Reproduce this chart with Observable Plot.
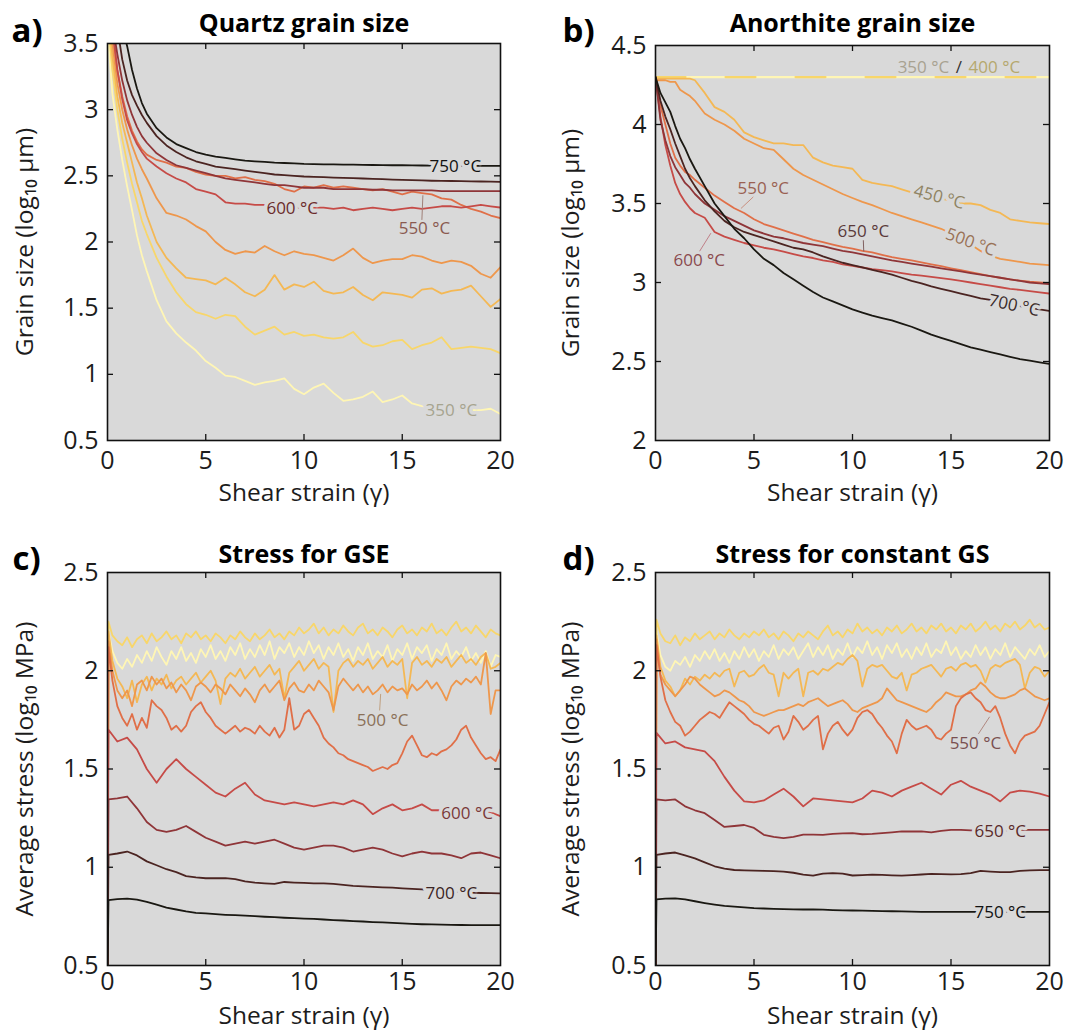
<!DOCTYPE html>
<html><head><meta charset="utf-8">
<script src="https://cdn.jsdelivr.net/npm/d3@7"></script>
<script src="https://cdn.jsdelivr.net/npm/@observablehq/plot@0.6"></script>
<style>
body{margin:0;background:#fff;}
#wrap{position:relative;width:1070px;height:1032px;overflow:hidden;background:#fff;}
#wrap svg{position:absolute;}
</style></head><body><div id="wrap"></div>
<script>
// ---------- shared ----------
const temps = [350, 400, 450, 500, 550, 600, 650, 700, 750];
const tempColors = ["#fff6b5", "#f8d66a", "#f4b854", "#ee974c", "#e06f48", "#c64b47", "#8f3538", "#4b2421", "#1a1812"];
const xTickLabels = [0, 5, 10, 15, 20];
const xLabel = "Shear strain (γ)";

// ---------- panel a / b strain grid ----------
const strainAB = [0, 0.25, 0.5, 0.75, 1, 1.25, 1.5, 1.75, 2, 2.5, 3, 3.5, 4, 4.5, 5, 5.5, 6, 6.5, 7, 7.5, 8, 8.5, 9, 9.5, 10,
  10.5, 11, 11.5, 12, 12.5, 13, 13.5, 14, 14.5, 15, 15.5, 16, 16.5, 17, 17.5, 18, 18.5, 19, 19.5, 20];

// ---------- a) Quartz grain size (log10 µm) ----------
const qz350 = [3.6, 3.12, 2.85, 2.62, 2.42, 2.24, 2.05, 1.9, 1.78, 1.56, 1.40, 1.31, 1.24, 1.18, 1.10, 1.05, 0.99, 0.98, 0.95, 0.92,
  0.94, 0.95, 0.97, 0.89, 0.85, 0.90, 0.93, 0.86, 0.80, 0.81, 0.83, 0.87, 0.79, 0.81, 0.84, 0.78, 0.76, 0.75, 0.74, 0.73, 0.74, 0.73, 0.73, 0.74, 0.70];
const qz400 = [3.7, 3.3, 3.0, 2.78, 2.6, 2.44, 2.3, 2.16, 2.06, 1.88, 1.74, 1.62, 1.53, 1.47, 1.45, 1.42, 1.45, 1.44, 1.36, 1.30,
  1.33, 1.36, 1.30, 1.32, 1.29, 1.30, 1.28, 1.27, 1.28, 1.32, 1.24, 1.21, 1.22, 1.25, 1.26, 1.19, 1.22, 1.24, 1.28, 1.19, 1.20, 1.21, 1.20, 1.19, 1.16];
const qz450 = [3.8, 3.4, 3.1, 2.9, 2.75, 2.6, 2.45, 2.33, 2.2, 2.0, 1.88, 1.80, 1.73, 1.72, 1.71, 1.68, 1.73, 1.68, 1.62, 1.59,
  1.64, 1.75, 1.64, 1.68, 1.66, 1.70, 1.63, 1.61, 1.62, 1.66, 1.60, 1.56, 1.62, 1.61, 1.60, 1.58, 1.64, 1.65, 1.61, 1.63, 1.64, 1.67, 1.59, 1.51, 1.57];
const qz500 = [3.9, 3.5, 3.2, 3.0, 2.85, 2.73, 2.63, 2.55, 2.48, 2.33, 2.22, 2.20, 2.17, 2.12, 2.08, 2.0, 1.94, 1.91, 1.93, 1.92,
  1.97, 1.93, 1.90, 1.93, 1.91, 1.90, 1.88, 1.86, 1.90, 1.95, 1.88, 1.84, 1.86, 1.87, 1.87, 1.90, 1.89, 1.86, 1.84, 1.86, 1.85, 1.82, 1.76, 1.73, 1.81];
const qz550 = [3.95, 3.6, 3.3, 3.1, 2.95, 2.84, 2.76, 2.70, 2.66, 2.62, 2.60, 2.57, 2.56, 2.53, 2.51, 2.50, 2.50, 2.48, 2.49, 2.47,
  2.46, 2.44, 2.40, 2.38, 2.42, 2.41, 2.43, 2.41, 2.42, 2.41, 2.40, 2.39, 2.40, 2.38, 2.36, 2.38, 2.37, 2.36, 2.33, 2.32, 2.28, 2.25, 2.23, 2.20, 2.18];
const qz600 = [4.0, 3.62, 3.3, 3.08, 2.92, 2.82, 2.74, 2.68, 2.63, 2.57, 2.52, 2.48, 2.45, 2.40, 2.38, 2.36, 2.30, 2.29, 2.29, 2.28,
  2.28, 2.27, 2.27, 2.26, 2.26, 2.26, 2.26, 2.25, 2.26, 2.24, 2.25, 2.26, 2.25, 2.24, 2.25, 2.26, 2.25, 2.26, 2.27, 2.27, 2.26, 2.27, 2.28, 2.27, 2.26];
const qz650 = [3.95, 3.65, 3.42, 3.22, 3.07, 2.96, 2.87, 2.80, 2.75, 2.67, 2.62, 2.58, 2.56, 2.54, 2.52, 2.50, 2.48, 2.47, 2.46, 2.45,
  2.44, 2.43, 2.43, 2.42, 2.41, 2.41, 2.41, 2.40, 2.40, 2.40, 2.40, 2.395, 2.395, 2.39, 2.39, 2.39, 2.39, 2.39, 2.385, 2.385, 2.385, 2.385, 2.385, 2.385, 2.385];
const qz700 = [4.25, 3.95, 3.62, 3.38, 3.22, 3.11, 3.03, 2.96, 2.90, 2.80, 2.73, 2.68, 2.64, 2.61, 2.59, 2.57, 2.56, 2.55, 2.54, 2.53,
  2.52, 2.51, 2.505, 2.50, 2.495, 2.492, 2.49, 2.487, 2.485, 2.482, 2.48, 2.477, 2.475, 2.472, 2.47, 2.467, 2.465, 2.463, 2.462, 2.461, 2.46, 2.458, 2.457, 2.456, 2.455];
const qz750 = [4.3, 4.0, 3.8, 3.62, 3.48, 3.3, 3.16, 3.05, 2.97, 2.86, 2.79, 2.74, 2.71, 2.68, 2.66, 2.645, 2.635, 2.625, 2.615, 2.61,
  2.605, 2.60, 2.597, 2.594, 2.59, 2.588, 2.587, 2.586, 2.585, 2.584, 2.583, 2.582, 2.581, 2.58, 2.58, 2.579, 2.578, 2.577, 2.577, 2.576, 2.576, 2.575, 2.575, 2.575, 2.575];

// ---------- b) Anorthite grain size (log10 µm) ----------
const anFlatStrain = [0, 20];
const an350 = [4.3, 4.3];
const an400 = [4.3, 4.3];
const an450 = [4.29, 4.29, 4.29, 4.29, 4.29, 4.29, 4.29, 4.29, 4.28, 4.2, 4.11, 4.08, 4.03, 3.95, 3.92, 3.9, 3.88, 3.88, 3.87, 3.87,
  3.79, 3.76, 3.74, 3.73, 3.72, 3.65, 3.63, 3.62, 3.61, 3.59, 3.57, 3.56, 3.55, 3.53, 3.52, 3.5, 3.5, 3.49, 3.46, 3.44, 3.40, 3.39, 3.38, 3.375, 3.37];
const an500 = [4.28, 4.28, 4.28, 4.27, 4.27, 4.22, 4.2, 4.18, 4.15, 4.07, 4.03, 4.0, 3.96, 3.91, 3.88, 3.85, 3.84, 3.78, 3.72, 3.68,
  3.65, 3.62, 3.59, 3.56, 3.535, 3.51, 3.49, 3.465, 3.44, 3.42, 3.40, 3.38, 3.36, 3.34, 3.31, 3.28, 3.24, 3.2, 3.17, 3.15, 3.14, 3.13, 3.12, 3.115, 3.11];
const an550 = [4.3, 4.12, 4.0, 3.88, 3.79, 3.74, 3.70, 3.68, 3.65, 3.60, 3.55, 3.51, 3.47, 3.44, 3.40, 3.37, 3.35, 3.33, 3.31, 3.29,
  3.27, 3.255, 3.24, 3.225, 3.215, 3.20, 3.19, 3.175, 3.16, 3.15, 3.14, 3.128, 3.115, 3.103, 3.09, 3.078, 3.065, 3.053, 3.04, 3.03, 3.02, 3.012, 3.005, 3.0, 2.995];
const an600 = [4.3, 4.05, 3.87, 3.74, 3.63, 3.56, 3.51, 3.47, 3.44, 3.41, 3.32, 3.29, 3.27, 3.25, 3.235, 3.22, 3.21, 3.195, 3.18, 3.165,
  3.155, 3.14, 3.13, 3.115, 3.105, 3.095, 3.085, 3.078, 3.07, 3.06, 3.05, 3.043, 3.035, 3.028, 3.02, 3.01, 3.0, 2.99, 2.98, 2.97, 2.96, 2.953, 2.945, 2.937, 2.93];
const an650 = [4.3, 4.03, 3.9, 3.8, 3.73, 3.68, 3.63, 3.60, 3.56, 3.50, 3.46, 3.42, 3.39, 3.36, 3.33, 3.31, 3.29, 3.28, 3.265, 3.25,
  3.24, 3.23, 3.215, 3.2, 3.19, 3.178, 3.165, 3.153, 3.14, 3.13, 3.12, 3.11, 3.1, 3.09, 3.08, 3.07, 3.06, 3.05, 3.04, 3.03, 3.02, 3.01, 3.0, 2.995, 2.99];
const an700 = [4.3, 4.15, 4.05, 3.97, 3.88, 3.8, 3.72, 3.66, 3.61, 3.52, 3.45, 3.39, 3.35, 3.32, 3.30, 3.28, 3.26, 3.24, 3.22, 3.21,
  3.19, 3.165, 3.145, 3.125, 3.11, 3.095, 3.08, 3.065, 3.05, 3.03, 3.01, 2.995, 2.975, 2.96, 2.945, 2.93, 2.915, 2.9, 2.89, 2.875, 2.86, 2.85, 2.84, 2.83, 2.82];
const an750 = [4.3, 4.2, 4.14, 4.08, 3.99, 3.91, 3.85, 3.78, 3.72, 3.61, 3.50, 3.42, 3.34, 3.28, 3.21, 3.15, 3.11, 3.06, 3.02, 2.98,
  2.94, 2.905, 2.88, 2.855, 2.83, 2.81, 2.79, 2.775, 2.76, 2.74, 2.72, 2.695, 2.67, 2.65, 2.63, 2.61, 2.59, 2.575, 2.56, 2.545, 2.53, 2.515, 2.505, 2.495, 2.485];

// ---------- panel c / d strain grids ----------
const strainFine = [0, 0.05, ...d3.range(1, 81).map(i => i / 4)];
const strainMed = [0, 0.05, ...d3.range(1, 41).map(i => i / 2)];

// ---------- c) Stress for GSE (log10 MPa) ----------
const gse350 = [0.45, 2.2,
  2.1, 2.04, 2.01, 2.06, 2.02, 2.08, 2.04, 2.1, 2.05, 2.12,
  2.07, 2.03, 2.1, 2.06, 2.12, 2.05, 2.09, 2.04, 2.11, 2.07,
  2.13, 2.06, 2.1, 2.05, 2.12, 2.08, 2.14, 2.06, 2.11, 2.07,
  2.13, 2.08, 2.15, 2.06, 2.12, 2.09, 2.14, 2.07, 2.12, 2.08,
  2.15, 2.09, 2.13, 2.06, 2.12, 2.08, 2.14, 2.07, 2.11, 2.05,
  2.12, 2.08, 2.14, 2.06, 2.1, 2.07, 2.13, 2.05, 2.11, 2.08,
  2.14, 2.06, 2.12, 2.09, 2.13, 2.05, 2.11, 2.08, 2.14, 2.06,
  2.1, 2.07, 2.12, 2.05, 2.09, 2.04, 2.1, 2.02, 2.08, 2.07];
const gse400 = [0.45, 2.25,
  2.18, 2.15, 2.13, 2.17, 2.12, 2.16, 2.18, 2.14, 2.19, 2.15,
  2.17, 2.2, 2.16, 2.18, 2.14, 2.19, 2.17, 2.2, 2.16, 2.18,
  2.15, 2.19, 2.17, 2.14, 2.18, 2.16, 2.2, 2.17, 2.15, 2.19,
  2.16, 2.18, 2.21, 2.17, 2.19, 2.16, 2.2, 2.18, 2.22, 2.19,
  2.21, 2.24, 2.19, 2.22, 2.18, 2.21, 2.19, 2.23, 2.2, 2.18,
  2.22, 2.24, 2.19, 2.21, 2.18, 2.22, 2.2, 2.17, 2.21, 2.23,
  2.19, 2.21, 2.18, 2.22, 2.2, 2.24, 2.19, 2.21, 2.18, 2.22,
  2.25, 2.2, 2.22, 2.19, 2.23, 2.2, 2.17, 2.21, 2.19, 2.18];
const gse450 = [0.45, 2.2,
  2.05, 1.96, 1.92, 1.86, 1.95, 1.84, 1.93, 1.97, 1.9, 1.96,
  1.93, 1.98, 1.91, 1.95, 1.97, 1.93, 1.96, 1.99, 1.94, 1.97,
  2.0, 1.95, 1.83, 1.96, 1.99, 1.97, 2.01, 1.96, 1.99, 2.02,
  1.97, 2.0, 2.03, 1.98, 2.01, 1.86, 1.99, 2.02, 2.05, 2.0,
  2.03, 2.06, 2.01, 2.04, 2.02, 1.79, 2.0, 2.04, 2.06, 2.02,
  2.05, 2.03, 2.06, 2.01, 2.04, 2.07, 2.02, 2.05, 2.03, 2.06,
  1.86, 2.04, 2.07, 2.03, 2.05, 2.02, 2.06, 2.04, 2.07, 2.02,
  2.05, 2.08, 2.04, 2.06, 2.03, 2.07, 2.09, 2.01, 2.02, 2.04];
const gse500 = [0.45, 2.15,
  2.0, 1.9, 1.86, 1.9, 1.82, 1.93, 1.95, 1.9, 1.97, 1.93,
  1.96, 1.91, 1.94, 1.89, 1.93, 1.9, 1.85, 1.92, 1.94, 1.92,
  1.89, 1.93, 1.91, 1.88, 1.93, 1.9, 1.87, 1.91, 1.88, 1.84,
  1.9, 1.93, 1.89, 1.92, 1.95, 1.85, 1.91, 1.94, 1.9, 1.89,
  1.93, 1.9, 1.95, 1.92, 1.89, 1.8, 1.92, 1.96, 1.93, 1.9,
  1.93, 1.89, 1.92, 1.88, 1.9, 1.93, 1.89, 1.92, 1.9, 1.91,
  1.88, 1.93, 1.9, 1.92, 1.95, 1.91, 1.94, 1.9, 1.85, 1.92,
  1.95, 1.93, 1.96, 1.94, 1.97, 1.93, 2.09, 1.78, 1.9, 1.9];
const gse550 = [0.45, 2.12,
  1.95, 1.82, 1.76, 1.72, 1.78, 1.70, 1.76, 1.71, 1.85, 1.82,
  1.80, 1.76, 1.70, 1.72, 1.69, 1.72, 1.79, 1.82, 1.84, 1.79,
  1.76, 1.72, 1.70, 1.68, 1.70, 1.72, 1.69, 1.71, 1.70, 1.68,
  1.72, 1.69, 1.67, 1.71, 1.66, 1.70, 1.86, 1.70, 1.72, 1.78,
  1.80, 1.76, 1.72, 1.66, 1.63, 1.61, 1.58, 1.57, 1.55, 1.54,
  1.53, 1.52, 1.51, 1.49, 1.50, 1.51, 1.50, 1.52, 1.53, 1.58,
  1.64, 1.67, 1.62, 1.57, 1.56, 1.58, 1.57, 1.59, 1.60, 1.62,
  1.65, 1.70, 1.72, 1.66, 1.62, 1.58, 1.55, 1.56, 1.54, 1.60];
const gse600 = [0.45, 1.70,
  1.64, 1.66, 1.60, 1.50, 1.43, 1.50, 1.55, 1.50, 1.46, 1.42,
  1.38, 1.36, 1.40, 1.43, 1.37, 1.34, 1.33, 1.32, 1.33, 1.32,
  1.31, 1.32, 1.33, 1.32, 1.34, 1.32, 1.27, 1.30, 1.32, 1.29,
  1.30, 1.32, 1.29, 1.29, 1.28, 1.28, 1.28, 1.29, 1.28, 1.26];
const gse650 = [0.45, 1.345,
  1.35, 1.36, 1.30, 1.23, 1.19, 1.18, 1.19, 1.21, 1.18, 1.15,
  1.13, 1.11, 1.12, 1.13, 1.12, 1.13, 1.14, 1.12, 1.10, 1.09,
  1.10, 1.11, 1.11, 1.10, 1.08, 1.09, 1.10, 1.09, 1.07, 1.055,
  1.07, 1.08, 1.07, 1.07, 1.06, 1.046, 1.07, 1.075, 1.06, 1.046];
const gse700 = [0.45, 1.063,
  1.07, 1.08, 1.06, 1.03, 1.01, 0.99, 0.975, 0.955, 0.948, 0.944,
  0.944, 0.945, 0.94, 0.928, 0.922, 0.918, 0.915, 0.925, 0.922, 0.92,
  0.918, 0.918, 0.915, 0.91, 0.905, 0.903, 0.9, 0.898, 0.896, 0.893,
  0.89, 0.887, 0.883, 0.88, 0.877, 0.874, 0.871, 0.869, 0.868, 0.867];
const gse750 = [0.45, 0.833,
  0.838, 0.84, 0.835, 0.824, 0.81, 0.795, 0.785, 0.775, 0.768, 0.765,
  0.761, 0.758, 0.756, 0.754, 0.751, 0.748, 0.746, 0.743, 0.741, 0.739,
  0.737, 0.734, 0.731, 0.729, 0.726, 0.724, 0.721, 0.719, 0.717, 0.714,
  0.712, 0.71, 0.709, 0.708, 0.707, 0.706, 0.705, 0.705, 0.705, 0.705];

// ---------- d) Stress for constant GS (log10 MPa) ----------
const cgs350 = [0.45, 2.2,
  2.08, 2.02, 2.0, 2.05, 2.03, 2.07, 2.02, 2.08, 2.05, 2.1,
  2.06, 2.11, 2.05, 2.09, 2.04, 2.1, 2.06, 2.12, 2.07, 2.11,
  2.05, 2.1, 2.07, 2.13, 2.06, 2.11, 2.08, 2.12, 2.06, 2.1,
  2.14, 2.07, 2.12, 2.08, 2.13, 2.06, 2.11, 2.08, 2.14, 2.07,
  2.12, 2.09, 2.15, 2.08, 2.12, 2.06, 2.13, 2.09, 2.14, 2.07,
  2.11, 2.06, 2.12, 2.08, 2.14, 2.07, 2.11, 2.09, 2.15, 2.08,
  2.12, 2.06, 2.1, 2.07, 2.13, 2.08, 2.12, 2.06, 2.11, 2.08,
  2.14, 2.07, 2.12, 2.09, 2.06, 2.11, 2.08, 2.13, 2.07, 2.1];
const cgs400 = [0.45, 2.26,
  2.19, 2.15, 2.14, 2.18, 2.13, 2.17, 2.15, 2.19, 2.16, 2.18,
  2.2, 2.16, 2.19, 2.17, 2.21, 2.18, 2.16, 2.19, 2.17, 2.2,
  2.18, 2.21, 2.17, 2.19, 2.16, 2.2, 2.18, 2.15, 2.19, 2.17,
  2.2, 2.18, 2.16, 2.2, 2.23, 2.18, 2.2, 2.17, 2.21, 2.19,
  2.24, 2.2, 2.22, 2.19, 2.21, 2.18, 2.22, 2.2, 2.23, 2.19,
  2.21, 2.24, 2.2, 2.22, 2.19, 2.23, 2.21, 2.24, 2.2, 2.22,
  2.19, 2.23, 2.21, 2.24, 2.2, 2.22, 2.25, 2.21, 2.23, 2.2,
  2.24, 2.22, 2.25, 2.21, 2.23, 2.26, 2.22, 2.24, 2.21, 2.22];
const cgs450 = [0.45, 2.18,
  2.02, 1.95, 1.92, 1.87, 1.9, 1.96, 1.93, 1.97, 1.95, 1.98,
  1.96, 1.99, 1.97, 2.0, 2.01, 1.92, 1.99, 2.0, 1.97, 1.98,
  2.01, 2.03, 1.99, 1.98, 1.87, 1.99, 1.96, 1.99, 2.01, 1.87,
  1.99, 2.0, 1.98, 2.01, 2.0, 2.02, 2.04, 2.03, 2.06, 2.08,
  2.05, 1.92, 2.01, 2.03, 2.02, 2.03, 2.0, 1.97, 1.96, 1.99,
  1.9, 1.98, 1.99, 2.01, 2.02, 2.03, 2.0, 1.97, 2.01, 2.02,
  2.0, 2.03, 2.04, 2.02, 2.03, 2.0, 1.94, 2.01, 2.03, 2.02,
  2.04, 2.05, 2.06, 2.03, 1.91, 1.99, 2.02, 2.01, 1.97, 2.0];
const cgs500 = [0.45, 2.16,
  1.98, 1.93, 1.9, 1.87, 1.9, 1.93, 1.97, 1.96, 1.93, 1.91,
  1.89, 1.87, 1.88, 1.9, 1.89, 1.87, 1.85, 1.84, 1.82, 1.79,
  1.78, 1.77, 1.78, 1.79, 1.8, 1.8, 1.81, 1.82, 1.83, 1.82,
  1.84, 1.85, 1.86, 1.84, 1.82, 1.83, 1.84, 1.85, 1.83, 1.8,
  1.79, 1.81, 1.82, 1.83, 1.84, 1.86, 1.91, 1.88, 1.85, 1.84,
  1.83, 1.82, 1.81, 1.8, 1.79, 1.81, 1.84, 1.86, 1.89, 1.88,
  1.87, 1.87, 1.88, 1.9, 1.91, 1.94, 1.92, 1.89, 1.87, 1.86,
  1.86, 1.87, 1.88, 1.9, 1.91, 1.89, 1.87, 1.86, 1.85, 1.86];
const cgs550 = [0.45, 2.13,
  1.97, 1.85, 1.79, 1.74, 1.72, 1.67, 1.69, 1.72, 1.75, 1.77,
  1.79, 1.78, 1.76, 1.8, 1.84, 1.82, 1.8, 1.78, 1.75, 1.73,
  1.72, 1.7, 1.68, 1.71, 1.72, 1.65, 1.69, 1.77, 1.74, 1.7,
  1.72, 1.75, 1.77, 1.6, 1.68, 1.72, 1.74, 1.7, 1.67, 1.7,
  1.76, 1.79, 1.8, 1.78, 1.74, 1.71, 1.67, 1.64, 1.58, 1.68,
  1.75, 1.72, 1.7, 1.71, 1.72, 1.7, 1.66, 1.65, 1.68, 1.7,
  1.82, 1.86, 1.88, 1.89, 1.86, 1.84, 1.8, 1.79, 1.82, 1.76,
  1.68, 1.62, 1.58, 1.64, 1.67, 1.68, 1.69, 1.72, 1.78, 1.84];
const cgs600 = [0.45, 1.684,
  1.63, 1.64, 1.61, 1.6, 1.59, 1.54, 1.46, 1.39, 1.335, 1.33,
  1.34, 1.37, 1.4, 1.36, 1.31, 1.35, 1.345, 1.34, 1.335, 1.33,
  1.35, 1.39, 1.38, 1.36, 1.39, 1.41, 1.43, 1.4, 1.37, 1.42,
  1.44, 1.41, 1.39, 1.37, 1.335, 1.38, 1.39, 1.385, 1.375, 1.36];
const cgs650 = [0.45, 1.345,
  1.34, 1.345, 1.31, 1.29, 1.275, 1.24, 1.205, 1.21, 1.215, 1.2,
  1.165, 1.155, 1.148, 1.155, 1.166, 1.166, 1.165, 1.17, 1.172, 1.174,
  1.168, 1.17, 1.174, 1.178, 1.183, 1.182, 1.183, 1.178, 1.185, 1.19,
  1.19, 1.188, 1.188, 1.188, 1.188, 1.188, 1.19, 1.19, 1.19, 1.19];
const cgs700 = [0.45, 1.063,
  1.07, 1.075, 1.06, 1.045, 1.025, 1.005, 0.993, 0.986, 0.984, 0.983,
  0.982, 0.98, 0.978, 0.972, 0.963, 0.957, 0.968, 0.97, 0.968, 0.958,
  0.96, 0.962, 0.961, 0.959, 0.957, 0.96, 0.963, 0.966, 0.965, 0.964,
  0.965, 0.97, 0.982, 0.978, 0.975, 0.975, 0.982, 0.984, 0.985, 0.985];
const cgs750 = [0.45, 0.836,
  0.84, 0.842, 0.836, 0.827, 0.818, 0.81, 0.803, 0.8, 0.796, 0.792,
  0.79, 0.788, 0.787, 0.786, 0.785, 0.785, 0.784, 0.782, 0.781, 0.78,
  0.779, 0.778, 0.777, 0.776, 0.775, 0.774, 0.773, 0.773, 0.773, 0.773,
  0.773, 0.773, 0.773, 0.773, 0.773, 0.773, 0.773, 0.773, 0.773, 0.773];

// ---------- rendering ----------
const BG = "#d9d9d9";
const FONT = "'Open Sans', 'Noto Sans', sans-serif";
const colorOf = t => tempColors[temps.indexOf(t)];
const rowsOf = (xs, ys) => ys.map((y, i) => ({x: xs[i], y})).filter(d => d.x !== undefined);

function panel(cfg) {
  const plotW = cfg.width - cfg.ml - cfg.mr;
  const plotH = cfg.height - cfg.mt - cfg.mb;
  const marks = [Plot.frame({fill: BG})];
  // drawn in temperature order: cold (pale) first, hot (dark) on top
  for (const s of cfg.series) {
    marks.push(Plot.line(rowsOf(s.xs, s.ys), {
      x: "x", y: "y", stroke: colorOf(s.t), strokeWidth: s.w || 1.8, clip: true,
      strokeDasharray: s.dash, strokeLinejoin: "round"
    }));
  }
  for (const l of cfg.leaders || []) {
    marks.push(Plot.line(l.pts, {x: "x", y: "y", stroke: l.color, strokeWidth: 1}));
  }
  for (const l of cfg.labels) {
    marks.push(Plot.text([l], {
      x: "x", y: "y", text: "text", fill: l.color, fontSize: 17, rotate: l.rotate || 0,
      stroke: l.halo ? BG : null, strokeWidth: l.halo ? 7 : 0
    }));
  }
  const xin = xTickLabels.slice(1, -1);
  const yin = cfg.yticks.slice(1, -1);
  marks.push(
    Plot.frame({stroke: "#111", strokeWidth: 1.6}),
    Plot.ruleX(xin, {x: d => d, insetBottom: plotH - 6, stroke: "#111", strokeWidth: 1.3}),
    Plot.ruleX(xin, {x: d => d, insetTop: plotH - 6, stroke: "#111", strokeWidth: 1.3}),
    Plot.ruleY(yin, {y: d => d, insetRight: plotW - 6, stroke: "#111", strokeWidth: 1.3}),
    Plot.ruleY(yin, {y: d => d, insetLeft: plotW - 6, stroke: "#111", strokeWidth: 1.3}),
    Plot.axisX({ticks: xTickLabels, tickSize: 0, tickPadding: cfg.xtickPad, fontSize: 25, tickFormat: d => String(d)}),
    Plot.axisY({ticks: cfg.yticks, tickSize: 0, tickPadding: 9, fontSize: 25, tickFormat: d => String(d)}),
    Plot.text([xLabel], {text: d => d, frameAnchor: "bottom", dy: cfg.xlabDy, fontSize: 24.5, lineAnchor: "middle", textAnchor: "middle"}),
    Plot.text([cfg.ylabel], {text: d => d, frameAnchor: "left", dx: -cfg.ylabDx, rotate: -90, fontSize: 24.5, lineAnchor: "middle", textAnchor: "middle"}),
    Plot.text([cfg.title], {text: d => d, frameAnchor: "top", dy: cfg.titleDy, fontSize: 25, fontWeight: "bold", lineAnchor: "bottom", textAnchor: "middle", fill: "#000"}),
    Plot.text([cfg.letter], {text: d => d, frameAnchor: "top-left", dx: cfg.letterDx, dy: cfg.letterDy, textAnchor: "start", fontSize: 33, fontWeight: "bold", lineAnchor: "bottom", fill: "#000"})
  );
  const svg = Plot.plot({
    width: cfg.width, height: cfg.height,
    marginLeft: cfg.ml, marginRight: cfg.mr, marginTop: cfg.mt, marginBottom: cfg.mb,
    x: {domain: [0, 20], label: null},
    y: {domain: cfg.ydomain, label: null},
    style: {fontFamily: FONT, fontSize: "25px", color: "#1c1c1c", background: "transparent", overflow: "visible"},
    marks
  });
  svg.style.left = cfg.left + "px";
  svg.style.top = cfg.top + "px";
  document.getElementById("wrap").appendChild(svg);
}

const grainLabel = "Grain size (log₁₀ µm)";
const stressLabel = "Average stress (log₁₀ MPa)";

panel({
  left: 0, top: 0, width: 530, height: 510, ml: 107, mr: 30, mt: 43, mb: 70,
  ydomain: [0.5, 3.5], yticks: [0.5, 1, 1.5, 2, 2.5, 3, 3.5],
  title: "Quartz grain size", letter: "a)", titleDy: -12, letterDx: -96, letterDy: -2,
  ylabel: grainLabel, ylabDx: 82, xlabDy: 53, xtickPad: 11,
  series: [
    {t: 350, xs: strainAB, ys: qz350}, {t: 400, xs: strainAB, ys: qz400}, {t: 450, xs: strainAB, ys: qz450},
    {t: 500, xs: strainAB, ys: qz500}, {t: 550, xs: strainAB, ys: qz550}, {t: 600, xs: strainAB, ys: qz600},
    {t: 650, xs: strainAB, ys: qz650}, {t: 700, xs: strainAB, ys: qz700}, {t: 750, xs: strainAB, ys: qz750}
  ],
  leaders: [{pts: [{x: 16.0, y: 2.17}, {x: 16.05, y: 2.35}], color: "#a08078"}],
  labels: [
    {x: 17.7, y: 2.572, text: "750 °C", color: "#111", halo: true},
    {x: 9.4, y: 2.252, text: "600 °C", color: "#6b2c2c", halo: true},
    {x: 16.13, y: 2.1, text: "550 °C", color: "#8a5a50"},
    {x: 17.5, y: 0.726, text: "350 °C", color: "#a6a48f", halo: true}
  ]
});

panel({
  left: 530, top: 0, width: 540, height: 510, ml: 125, mr: 21, mt: 45, mb: 70,
  ydomain: [2, 4.5], yticks: [2, 2.5, 3, 3.5, 4, 4.5],
  title: "Anorthite grain size", letter: "b)", titleDy: -14, letterDx: -93, letterDy: -4,
  ylabel: grainLabel, ylabDx: 84, xlabDy: 53, xtickPad: 11,
  series: [
    {t: 350, xs: anFlatStrain, ys: an350, w: 2.2}, {t: 400, xs: anFlatStrain, ys: an400, dash: "30,40", w: 2.2},
    {t: 450, xs: strainAB, ys: an450}, {t: 500, xs: strainAB, ys: an500}, {t: 550, xs: strainAB, ys: an550},
    {t: 600, xs: strainAB, ys: an600}, {t: 650, xs: strainAB, ys: an650}, {t: 700, xs: strainAB, ys: an700},
    {t: 750, xs: strainAB, ys: an750}
  ],
  leaders: [
    {pts: [{x: 4.95, y: 3.54}, {x: 4.35, y: 3.47}], color: "#c99080"},
    {pts: [{x: 2.25, y: 3.2}, {x: 2.8, y: 3.31}], color: "#c08088"},
    {pts: [{x: 10.55, y: 3.265}, {x: 10.57, y: 3.2}], color: "#806060"}
  ],
  labels: [
    {x: 13.6, y: 4.36, text: "350 °C", color: "#a8a291"},
    {x: 15.4, y: 4.36, text: "/", color: "#333"},
    {x: 17.2, y: 4.36, text: "400 °C", color: "#b5a86e"},
    {x: 14.4, y: 3.54, text: "450 °C", color: "#8f8363", halo: true, rotate: 15},
    {x: 16.0, y: 3.255, text: "500 °C", color: "#9a7256", halo: true, rotate: 20},
    {x: 5.47, y: 3.593, text: "550 °C", color: "#9a6152"},
    {x: 2.22, y: 3.14, text: "600 °C", color: "#8a4a4e"},
    {x: 10.55, y: 3.32, text: "650 °C", color: "#5a3a3a"},
    {x: 18.2, y: 2.855, text: "700 °C", color: "#3a2a28", halo: true, rotate: 12}
  ]
});

panel({
  left: 0, top: 510, width: 530, height: 522, ml: 107, mr: 30, mt: 62, mb: 67,
  ydomain: [0.5, 2.5], yticks: [0.5, 1, 1.5, 2, 2.5],
  title: "Stress for GSE", letter: "c)", titleDy: -10, letterDx: -95, letterDy: -3,
  ylabel: stressLabel, ylabDx: 82, xlabDy: 51, xtickPad: 7,
  series: [
    {t: 350, xs: strainFine, ys: gse350}, {t: 400, xs: strainFine, ys: gse400}, {t: 450, xs: strainFine, ys: gse450},
    {t: 500, xs: strainFine, ys: gse500}, {t: 550, xs: strainFine, ys: gse550}, {t: 600, xs: strainMed, ys: gse600},
    {t: 650, xs: strainMed, ys: gse650}, {t: 700, xs: strainMed, ys: gse700}, {t: 750, xs: strainMed, ys: gse750}
  ],
  leaders: [{pts: [{x: 13.85, y: 1.8}, {x: 13.9, y: 1.88}], color: "#c0a080"}],
  labels: [
    {x: 14.0, y: 1.747, text: "500 °C", color: "#8a7058"},
    {x: 18.3, y: 1.272, text: "600 °C", color: "#7a3a3a", halo: true},
    {x: 17.5, y: 0.868, text: "700 °C", color: "#3a2424", halo: true}
  ]
});

panel({
  left: 530, top: 510, width: 540, height: 522, ml: 125, mr: 21, mt: 62, mb: 67,
  ydomain: [0.5, 2.5], yticks: [0.5, 1, 1.5, 2, 2.5],
  title: "Stress for constant GS", letter: "d)", titleDy: -10, letterDx: -93, letterDy: -3,
  ylabel: stressLabel, ylabDx: 84, xlabDy: 51, xtickPad: 7,
  series: [
    {t: 350, xs: strainFine, ys: cgs350}, {t: 400, xs: strainFine, ys: cgs400}, {t: 450, xs: strainFine, ys: cgs450},
    {t: 500, xs: strainFine, ys: cgs500}, {t: 550, xs: strainFine, ys: cgs550}, {t: 600, xs: strainMed, ys: cgs600},
    {t: 650, xs: strainMed, ys: cgs650}, {t: 700, xs: strainMed, ys: cgs700}, {t: 750, xs: strainMed, ys: cgs750}
  ],
  leaders: [{pts: [{x: 16.4, y: 1.68}, {x: 16.95, y: 1.764}], color: "#b08880"}],
  labels: [
    {x: 16.24, y: 1.628, text: "550 °C", color: "#7a5050"},
    {x: 17.5, y: 1.183, text: "650 °C", color: "#5a2a2a", halo: true},
    {x: 17.5, y: 0.771, text: "750 °C", color: "#111", halo: true}
  ]
});
</script></body></html>
